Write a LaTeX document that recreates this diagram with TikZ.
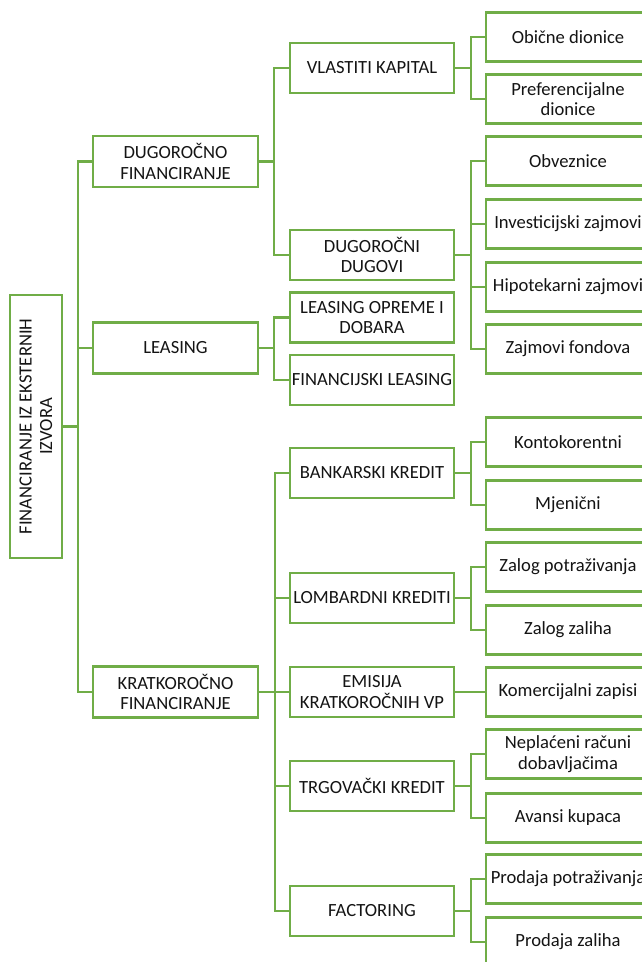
\documentclass[tikz,border=0pt]{standalone}
\usepackage{fontspec}
\setmainfont{Carlito}
\definecolor{gr}{HTML}{70AD47}
\definecolor{tx}{HTML}{141414}
\begin{document}
\begin{tikzpicture}[x={(1pt,0)},y={(0,-1pt)},
  box/.style={draw=gr,line width=2.2pt,fill=white,inner xsep=0pt,inner ysep=0pt,align=center,text=tx,font=\fontsize{18.6}{20.5}\selectfont},
  b1/.style={box,minimum width=165pt,minimum height=51pt},
  b2/.style={box,minimum width=164pt,minimum height=50pt},
  b3/.style={box,minimum width=164pt,minimum height=49pt},
  ln/.style={draw=gr,line width=2.2pt}]
\useasboundingbox (0,0) rectangle (642,962);
\clip (0,0) rectangle (642,962);
% root
\node[box,rotate=90,minimum width=263pt,minimum height=52pt] (root) at (36,426.5) {FINANCIRANJE IZ EKSTERNIH\\IZVORA};
% level 1
\node[b1] (dug) at (175.5,161.5) {DUGOROČNO\\FINANCIRANJE};
\node[b1] (lea) at (175.5,348) {LEASING};
\node[b1] (kra) at (175.5,692) {KRATKOROČNO\\FINANCIRANJE};
% level 2
\node[b2] (vla) at (372,68) {VLASTITI KAPITAL};
\node[b2] (ddu) at (372,255) {DUGOROČNI\\DUGOVI};
\node[b2] (lop) at (372,317.5) {LEASING OPREME I\\DOBARA};
\node[b2] (fle) at (372,380) {FINANCIJSKI LEASING};
\node[b2] (ban) at (372,473) {BANKARSKI KREDIT};
\node[b2] (lom) at (372,598) {LOMBARDNI KREDITI};
\node[b2] (emi) at (372,692) {EMISIJA\\KRATKOROČNIH VP};
\node[b2] (trg) at (372,786) {TRGOVAČKI KREDIT};
\node[b2] (fac) at (372,911) {FACTORING};
% level 3
\node[b3] (obi) at (568,37) {Obične dionice};
\node[b3] (pre) at (568,99) {Preferencijalne\\dionice};
\node[b3] (obv) at (568,161) {Obveznice};
\node[b3] (inv) at (568,224) {Investicijski zajmovi};
\node[b3] (hip) at (568,287) {Hipotekarni zajmovi};
\node[b3] (zaj) at (568,349) {Zajmovi fondova};
\node[b3] (kon) at (568,442) {Kontokorentni};
\node[b3] (mje) at (568,505) {Mjenični};
\node[b3] (zpo) at (568,567) {Zalog potraživanja};
\node[b3] (zza) at (568,630) {Zalog zaliha};
\node[b3] (kom) at (568,692) {Komercijalni zapisi};
\node[b3] (nep) at (568,754) {Neplaćeni računi\\dobavljačima};
\node[b3] (ava) at (568,818) {Avansi kupaca};
\node[b3] (ppo) at (568,879) {Prodaja potraživanja};
\node[b3] (pza) at (568,942) {Prodaja zaliha};
% connectors
\foreach \c in {dug,lea,kra} \draw[ln] (root.south) -- ++(15,0) |- (\c.west);
\foreach \c in {vla,ddu} \draw[ln] (dug.east) -- ++(15,0) |- (\c.west);
\foreach \c in {lop,fle} \draw[ln] (lea.east) -- ++(15,0) |- (\c.west);
\foreach \c in {ban,lom,emi,trg,fac} \draw[ln] (kra.east) -- ++(16,0) |- (\c.west);
\foreach \c in {obi,pre} \draw[ln] (vla.east) -- ++(16,0) |- (\c.west);
\foreach \c in {obv,inv,hip,zaj} \draw[ln] (ddu.east) -- ++(16,0) |- (\c.west);
\foreach \c in {kon,mje} \draw[ln] (ban.east) -- ++(16,0) |- (\c.west);
\foreach \c in {zpo,zza} \draw[ln] (lom.east) -- ++(16,0) |- (\c.west);
\draw[ln] (emi.east) -- (kom.west);
\foreach \c in {nep,ava} \draw[ln] (trg.east) -- ++(16,0) |- (\c.west);
\foreach \c in {ppo,pza} \draw[ln] (fac.east) -- ++(16,0) |- (\c.west);
\end{tikzpicture}
\end{document}
